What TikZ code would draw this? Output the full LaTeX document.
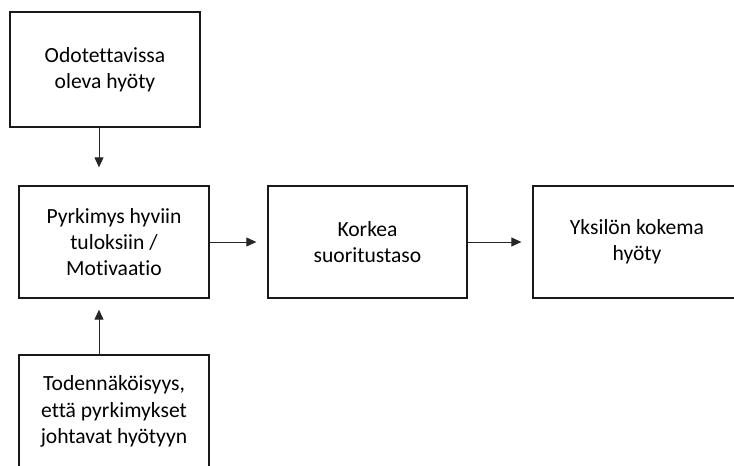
\documentclass[tikz,border=0pt]{standalone}
\usepackage{fontspec}
\setmainfont{Carlito}[Ligatures={NoCommon}]
\usetikzlibrary{arrows.meta}
\begin{document}
\begin{tikzpicture}[x=1pt,y=-1pt,
  box/.style={draw=black!90,line width=1.3pt,rectangle,align=center,inner sep=0pt,
    font=\fontsize{21.6}{26.3}\selectfont,text=black},
  arr/.style={draw=black!85,line width=0.9pt,-{Triangle[length=10pt,width=9pt]}}]
\useasboundingbox (0,0) rectangle (734,466);
\clip (0,0) rectangle (734,466);
\node[box,minimum width=190pt,minimum height=115pt] (b1) at (105,69.5) {Odotettavissa\\oleva hyöty};
\node[box,minimum width=190pt,minimum height=112pt] (b2) at (114,242) {Pyrkimys hyviin\\tuloksiin /\\Motivaatio};
\node[box,minimum width=199pt,minimum height=112pt] (b3) at (367.5,242) {Korkea\\suoritustaso};
\node[box,minimum width=208pt,minimum height=112pt] (b4) at (637,242) {Yksilön kokema\\hyöty};
\node[box,minimum width=190pt,minimum height=113pt] (b5) at (114,411.5) {Todennäköisyys,\\että pyrkimykset\\johtavat hyötyyn};
\coordinate (cx) at (99,0);
\draw[arr,shorten >=18pt] (b1.south -| cx) -- (b2.north -| cx);
\draw[arr,shorten >=11pt] (b5.north -| cx) -- (b2.south -| cx);
\draw[arr,shorten >=11pt] (b2.east) -- (b3.west);
\draw[arr,shorten >=11pt] (b3.east) -- (b4.west);
\end{tikzpicture}
\end{document}
